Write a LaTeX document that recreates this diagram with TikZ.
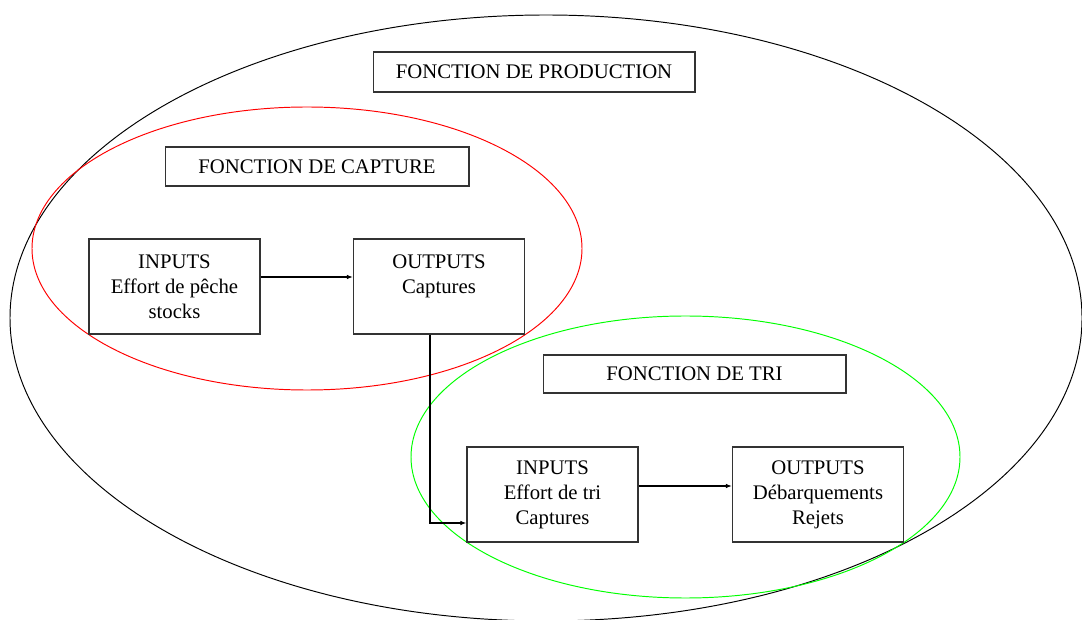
\documentclass[tikz,border=0pt]{standalone}
\usepackage{fontspec}
\setmainfont{Liberation Serif}
\usepackage{tikz}
\usetikzlibrary{arrows.meta}

\begin{document}
\begin{tikzpicture}[x=0.02cm,y=0.02cm,
	box/.style={draw=black!80,line width=0.6pt,align=center,inner sep=0pt,
		font=\fontsize{11.8}{14.2}\selectfont,minimum width=3.42cm,minimum height=1.9cm},
	titlebox/.style={draw=black!80,line width=0.6pt,inner sep=0pt,
		font=\fontsize{11.8}{14.2}\selectfont,minimum height=0.78cm},
	arr/.style={line width=0.6pt,-{Latex[length=3.5pt,width=2.6pt]}}]
\useasboundingbox (0,0) rectangle (1082,619);
%	ellipses
\draw[line width=0.55pt] (546,301) ellipse [x radius=536, y radius=303];
\draw[red,line width=0.55pt] (307,370.5) ellipse [x radius=275, y radius=141.5];
\draw[green,line width=0.55pt] (685.5,162) ellipse [x radius=274.5, y radius=141];
%	titles
\node[titlebox,minimum width=6.44cm,minimum height=0.8cm] (prod) at (534,547) {FONCTION DE PRODUCTION};
\node[titlebox,minimum width=6.08cm] (capt) at (317,452.5) {FONCTION DE CAPTURE};
\node[titlebox,minimum width=6.06cm,minimum height=0.76cm] (tri) at (694.5,245) {FONCTION DE TRI};
%	boxes
\node[box] (in1) at (174.5,332.5) {INPUTS\\Effort de pêche\\stocks};
\node[box] (out1) at (439,332.5) {OUTPUTS\\Captures\\~};
\node[box] (in2) at (552.5,124.5) {INPUTS\\Effort de tri\\Captures};
\node[box] (out2) at (818,124.5) {OUTPUTS\\Débarquements\\Rejets};
%	arrows
\coordinate (bend) at (430,96);
\draw[arr] ([yshift=0.19cm]in1.east) -- ([yshift=0.19cm]out1.west);
\draw[arr] ([yshift=0.17cm]in2.east) -- ([yshift=0.17cm]out2.west);
\draw[arr] (out1.south -| bend) -- (bend) -- (in2.west |- bend);
\end{tikzpicture}
\end{document}
